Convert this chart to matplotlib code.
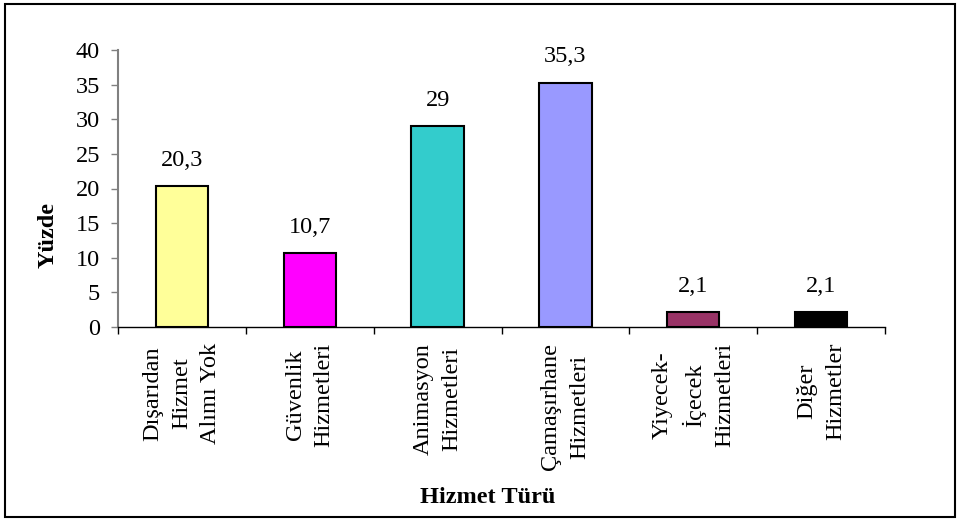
import matplotlib.pyplot as plt
from matplotlib.patches import Rectangle
import numpy as np

# data
categories = ["Dışarıdan\nHizmet\nAlımı Yok", "Güvenlik\nHizmetleri", "Animasyon\nHizmetleri",
              "Çamaşırhane\nHizmetleri", "Yiyecek-\nİçecek\nHizmetleri", "Diğer\nHizmetler"]
values = [20.3, 10.7, 29, 35.3, 2.1, 2.1]
value_labels = ["20,3", "10,7", "29", "35,3", "2,1", "2,1"]
colors = ["#FFFF99", "#FF00FF", "#33CCCC", "#9999FF", "#993366", "#000000"]
yticks = [0, 5, 10, 15, 20, 25, 30, 35, 40]

plt.rcParams['font.family'] = ['Liberation Serif', 'DejaVu Serif']
fs = 17.5

fig = plt.figure(figsize=(9.58, 5.2), dpi=100)
ax = fig.add_axes([0.1232, 0.3712, 0.8006, 0.5326])

x = np.arange(len(values))
ax.bar(x, values, width=0.41, color=colors, edgecolor="black", linewidth=1.5, zorder=3)

for xi, v, lab in zip(x, values, value_labels):
    ax.annotate(lab, (xi, v), xytext=(0, 18.5), textcoords="offset points",
                ha="center", va="center", fontsize=fs)

ax.set_xlim(-0.5, len(values) - 0.5)
ax.set_ylim(0, 40)
ax.set_yticks(yticks)
ax.set_yticklabels([str(t) for t in yticks], fontsize=fs)
ax.tick_params(axis="y", direction="out", length=5, width=1, color="#808080", pad=8)

ax.set_xticks(x)
ax.set_xticklabels(categories, rotation=90, fontsize=fs, va="top", ha="center",
                   multialignment="center", linespacing=1.5)
ax.tick_params(axis="x", which="major", length=0, pad=11.5)
ax.set_xticks(np.arange(len(values) + 1) - 0.5, minor=True)
ax.tick_params(axis="x", which="minor", direction="out", length=5, width=1, color="black")

for s in ["top", "right"]:
    ax.spines[s].set_visible(False)
ax.spines["left"].set_color("#808080")
ax.spines["left"].set_linewidth(1.5)
ax.spines["bottom"].set_color("black")
ax.spines["bottom"].set_linewidth(1)

fig.text(0.050, 0.548, "Yüzde", rotation=90, ha="center", va="center",
         fontsize=fs, fontweight="bold")
fig.text(0.509, 0.044, "Hizmet Türü", ha="center", va="center",
         fontsize=fs, fontweight="bold")

# outer frame
fig.patches.append(Rectangle((0.0055, 0.006), 0.991, 0.986, transform=fig.transFigure,
                             fill=False, edgecolor="black", linewidth=1.5))

fig.savefig("out.png", dpi=100)
